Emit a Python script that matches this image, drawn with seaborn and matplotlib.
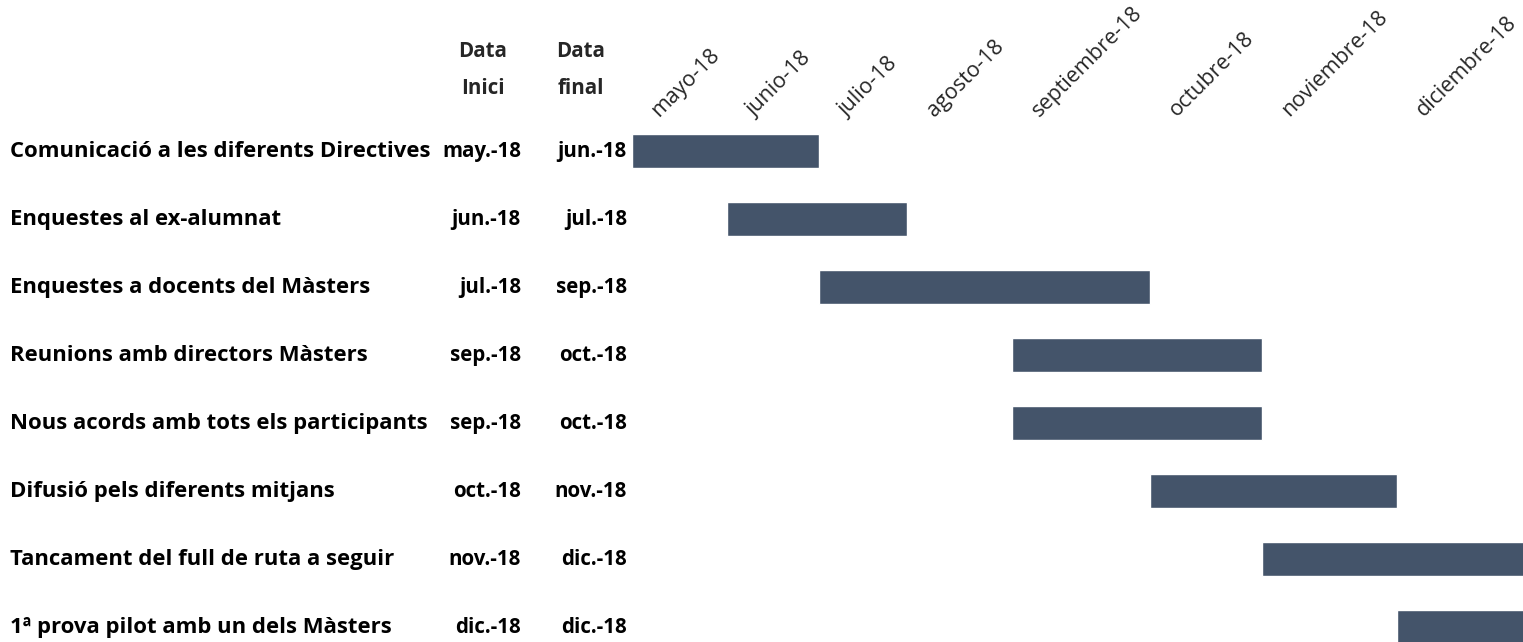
import numpy as np
import matplotlib
matplotlib.use("Agg")
import matplotlib.pyplot as plt
import matplotlib.transforms as mtransforms
import seaborn as sns

# data
months = ["mayo-18", "junio-18", "julio-18", "agosto-18", "septiembre-18",
          "octubre-18", "noviembre-18", "diciembre-18"]
month_short = ["may.-18", "jun.-18", "jul.-18", "ago.-18", "sep.-18",
               "oct.-18", "nov.-18", "dic.-18"]
tasks = ["Comunicació a les diferents Directives",
         "Enquestes al ex-alumnat",
         "Enquestes a docents del Màsters",
         "Reunions amb directors Màsters",
         "Nous acords amb tots els participants",
         "Difusió pels diferents mitjans",
         "Tancament del full de ruta a seguir",
         "1ª prova pilot amb un dels Màsters"]
start = ["may.-18", "jun.-18", "jul.-18", "sep.-18", "sep.-18", "oct.-18", "nov.-18", "dic.-18"]
end = ["jun.-18", "jul.-18", "sep.-18", "oct.-18", "oct.-18", "nov.-18", "dic.-18", "dic.-18"]

sns.set_theme(style="white")
plt.rcParams["font.family"] = ["Open Sans", "DejaVu Sans"]

W, H = 1523, 642
fig = plt.figure(figsize=(W / 100, H / 100), dpi=100)

# spreadsheet-like column widths for the month columns (pixels)
col_w = [95, 92, 88, 105, 138, 112, 135, 128]
edges = np.concatenate([[0], np.cumsum(col_w)]).astype(float)
idx = np.arange(len(edges), dtype=float)

ax = fig.add_axes([632 / W, 0, edges[-1] / W, 525 / H])
ax.set_xscale("function", functions=(lambda x: np.interp(x, idx, edges),
                                     lambda y: np.interp(y, edges, idx)))

s_i = np.array([month_short.index(s) for s in start])
e_i = np.array([month_short.index(e) for e in end]) + 1
y = np.arange(len(tasks))
ax.barh(y, e_i - s_i, left=s_i, height=0.5, color="#44546A")

ax.set_xlim(0, len(months))
ax.set_ylim(7.22, -0.5)
ax.set_yticks([])
ax.xaxis.tick_top()
ax.set_xticks(np.arange(len(months)))
ax.set_xticklabels(months, rotation=45, ha="left", va="baseline",
                   rotation_mode="anchor", fontsize=15.5)
ax.tick_params(axis="x", length=0, pad=0)
off = mtransforms.ScaledTranslation(27 / 100, 0, fig.dpi_scale_trans)
for lab in ax.get_xticklabels():
    lab.set_transform(lab.get_transform() + off)
for sp in ax.spines.values():
    sp.set_visible(False)

# left table
tr = mtransforms.blended_transform_factory(fig.transFigure, ax.transData)
for i, t in enumerate(tasks):
    kw = dict(transform=tr, va="center", fontweight="bold", color="black")
    fig.text(10 / W, i, t, ha="left", fontsize=15.9, **kw)
    fig.text(521 / W, i, start[i], ha="right", fontsize=14.8, **kw)
    fig.text(627 / W, i, end[i], ha="right", fontsize=14.8, **kw)

fig.text(483 / W, 1 - 70 / H, "Data\nInici", ha="center", va="center",
         fontsize=14.8, fontweight="bold", linespacing=2.0)
fig.text(581 / W, 1 - 70 / H, "Data\nfinal", ha="center", va="center",
         fontsize=14.8, fontweight="bold", linespacing=2.0)

fig.savefig("out.png", dpi=100)
